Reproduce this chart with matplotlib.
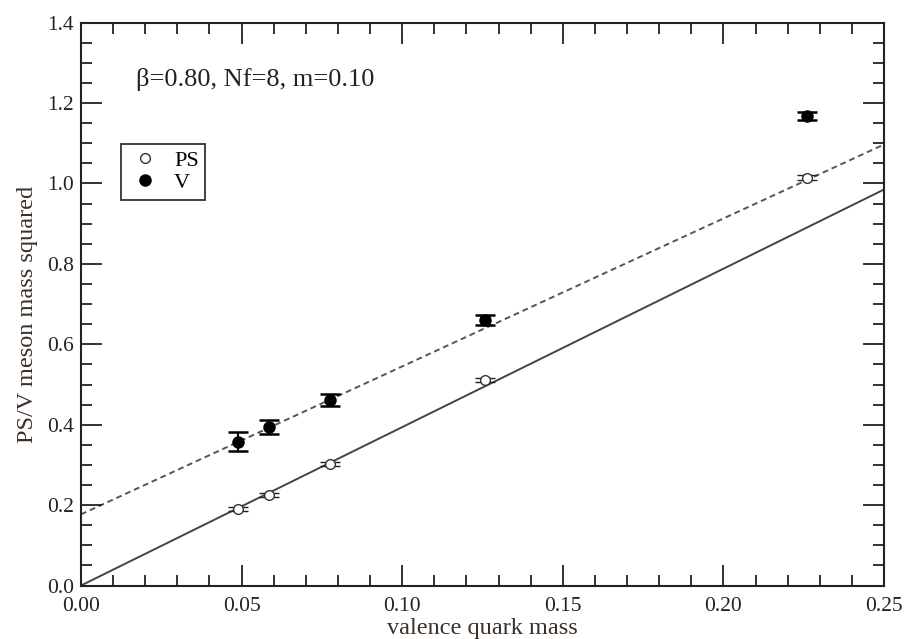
import numpy as np
import matplotlib
matplotlib.use("Agg")
import matplotlib.pyplot as plt
from matplotlib.lines import Line2D

# valence quark masses
mq = [0.049, 0.0585, 0.0775, 0.1258, 0.226]

# PS meson mass squared
ps = [0.191, 0.226, 0.302, 0.511, 1.014]
ps_err = [0.005, 0.005, 0.005, 0.006, 0.006]

# V meson mass squared
v = [0.358, 0.394, 0.462, 0.661, 1.169]
v_err = [0.023, 0.018, 0.015, 0.012, 0.010]

# linear fits (intercept, slope)
ps_fit = (0.0, 3.94)
v_fit = (0.177, 3.68)

plt.rcParams['font.family'] = ['Liberation Serif', 'DejaVu Serif']

fig = plt.figure(figsize=(9.06, 6.39), dpi=100)
ax = fig.add_axes([0.0894, 0.0837, 0.8863, 0.8808])

xf = np.array([0.0, 0.25])
ax.plot(xf, ps_fit[0] + ps_fit[1] * xf, '-', color='#444444', lw=1.4, zorder=1)
ax.plot(xf, v_fit[0] + v_fit[1] * xf, '--', color='#555555', lw=1.4,
        dashes=(3, 2), zorder=1)

ax.errorbar(mq, ps, yerr=ps_err, fmt='o', mfc='white', mec='#333333',
            ecolor='#222222', ms=7, mew=1.0, capsize=7, elinewidth=1.2,
            capthick=1.3, zorder=3)
ax.errorbar(mq, v, yerr=v_err, fmt='o', mfc='black', mec='black',
            ecolor='black', ms=8, capsize=7.5, elinewidth=1.5,
            capthick=1.8, zorder=3)

ax.set_xlim(0, 0.25)
ax.set_ylim(0, 1.4)
ax.set_xticks(np.arange(0, 0.251, 0.05))
ax.set_xticks(np.arange(0, 0.251, 0.01), minor=True)
ax.set_yticks(np.arange(0, 1.41, 0.2))
ax.set_yticks(np.arange(0, 1.41, 0.05), minor=True)
ax.xaxis.set_major_formatter(matplotlib.ticker.FormatStrFormatter('%.2f'))
ax.yaxis.set_major_formatter(matplotlib.ticker.FormatStrFormatter('%.1f'))
ax.tick_params(which='both', direction='in', top=True, right=True,
               labelsize=15.5, colors='#222222', width=1.3)
ax.tick_params(which='major', length=15)
ax.tick_params(axis='x', which='major', pad=8)
ax.tick_params(axis='y', which='major', pad=5)
ax.tick_params(which='minor', length=8)
for sp in ax.spines.values():
    sp.set_linewidth(1.5)
    sp.set_color('#222222')

ax.set_xlabel('valence quark mass', fontsize=17.5, color='#3a3028', labelpad=2)
ax.set_ylabel('PS/V meson mass squared', fontsize=17.5, color='#3a3028')
ax.yaxis.set_label_coords(-0.054, 0.482)

ax.text(0.017, 1.258, 'β=0.80, Nf=8, m=0.10', fontsize=19,
        color='#222222', va='center')

handles = [
    Line2D([], [], ls='none', marker='o', mfc='white', mec='#333333', ms=7),
    Line2D([], [], ls='none', marker='o', mfc='black', mec='black', ms=8),
]
leg = ax.legend(handles, ['PS', 'V'], loc='upper left',
                bbox_to_anchor=(0.0493, 0.7845), fontsize=16,
                frameon=True, fancybox=False, edgecolor='black',
                handlelength=1.6, handletextpad=0.5, borderpad=0.3,
                labelspacing=0.05, borderaxespad=0)
leg.get_frame().set_linewidth(1.3)

fig.savefig('out.png', dpi=100)
